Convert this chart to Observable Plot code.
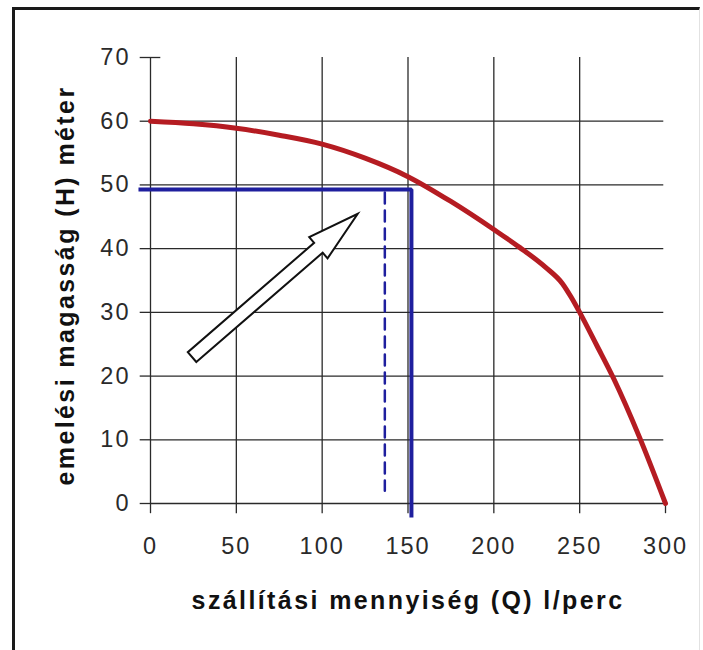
<!DOCTYPE html>
<html><head><meta charset="utf-8">
<script src="https://cdn.jsdelivr.net/npm/d3@7"></script>
<script src="https://cdn.jsdelivr.net/npm/@observablehq/plot@0.6"></script>
<style>
body{margin:0;background:#fff;}
#wrap{position:relative;width:703px;height:650px;overflow:hidden;}
#frame{position:absolute;left:12px;top:7px;width:684px;height:660px;border-left:3px solid #1a1a1a;border-top:3px solid #1a1a1a;border-right:1px solid #e2e2e2;}
#chart{position:absolute;left:0;top:0;}
</style></head>
<body><div id="wrap"><div id="frame"></div><div id="chart"></div></div>
<script>
// pump curve: flow Q (l/perc) vs head H (méter)
const flowQ = [0, 25, 50, 75, 100, 125, 150, 175, 200, 215, 230, 240, 245, 250, 260, 270, 285, 300];
const headH = [60, 59.6, 58.9, 57.8, 56.4, 54.2, 51.3, 47.4, 43, 40.2, 37.1, 34.5, 32.4, 30, 24.8, 19.5, 10.3, 0];
const xTicks = [0, 50, 100, 150, 200, 250, 300];
const yTicks = [0, 10, 20, 30, 40, 50, 60, 70];
// operating point guide (solid blue) and dashed blue marker
const opQ = [-7, 152, 152];
const opH = [49.3, 49.3, -2.2];
const dashQ = [136.5, 136.5];
const dashH = [48.8, 2];
// arrow annotation: tail -> tip (data units)
const arrowQ = [24.5, 121];
const arrowH = [22.9, 45.4];
const xLabel = "szállítási mennyiség (Q) l/perc";
const yLabel = "emelési magasság (H) méter";

const curve = flowQ.map((q, i) => ({q, h: headH[i]}));
const opLine = opQ.map((q, i) => ({q, h: opH[i]}));
const dashLine = dashQ.map((q, i) => ({q, h: dashH[i]}));
const gridColor = "#2a2a2a";
const font = "'Liberation Sans', Arial, sans-serif";

const plot = Plot.plot({
  width: 703, height: 650,
  marginLeft: 150, marginRight: 38, marginTop: 57, marginBottom: 147,
  x: {domain: [0, 300], axis: null},
  y: {domain: [0, 70], axis: null},
  style: {fontFamily: font, background: "transparent", overflow: "visible"},
  marks: [
    Plot.ruleY(yTicks.filter(d => d < 70), {y: d => d, x1: 0, x2: 299, stroke: gridColor, strokeWidth: 1.3}),
    Plot.ruleX(xTicks.filter(d => d < 300), {x: d => d, y1: 0, y2: 70, stroke: gridColor, strokeWidth: 1.3}),
    Plot.ruleY(yTicks, {y: d => d, x1: -6, x2: 0, stroke: gridColor, strokeWidth: 1.3}),
    Plot.ruleY([70], {y: d => d, x1: 0, x2: 6, stroke: gridColor, strokeWidth: 1.3}),
    Plot.ruleX(xTicks, {x: d => d, y1: -1.6, y2: 0, stroke: gridColor, strokeWidth: 1.3}),
    Plot.text(yTicks, {x: 0, y: d => d, text: d => String(d), textAnchor: "end", dx: -20, fontSize: 23.5, fill: "#2a2a2a"}),
    Plot.text(xTicks, {x: d => d, y: 0, text: d => String(d), textAnchor: "middle", lineAnchor: "top", dy: 34, fontSize: 23.5, fill: "#2a2a2a"}),
    Plot.line(opLine, {x: "q", y: "h", stroke: "#1f1f9e", strokeWidth: 4, strokeLinejoin: "miter", strokeLinecap: "butt"}),
    Plot.line(dashLine, {x: "q", y: "h", stroke: "#1f1f9e", strokeWidth: 2.5, strokeDasharray: "11,7"}),
    Plot.line(curve, {x: "q", y: "h", curve: "monotone-x", stroke: "#b51c22", strokeWidth: 5}),
    Plot.text([yLabel], {frameAnchor: "left", textAnchor: "middle", rotate: -90, dx: -85, dy: 5, fontSize: 25, fontWeight: "bold", fill: "#111"}),
    Plot.text([xLabel], {frameAnchor: "bottom", textAnchor: "middle", lineAnchor: "bottom", dy: 105, fontSize: 25, fontWeight: "bold", fill: "#111"})
  ]
});

// arrow drawn through the plot's own scales
const sx = plot.scale("x"), sy = plot.scale("y");
const x0 = sx.apply(arrowQ[0]), y0 = sy.apply(arrowH[0]);
const x1 = sx.apply(arrowQ[1]), y1 = sy.apply(arrowH[1]);
const len = Math.hypot(x1 - x0, y1 - y0);
const ux = (x1 - x0) / len, uy = (y1 - y0) / len;
const nx = -uy, ny = ux;
const w = 6.5, W = 14, L = 52;
const neckX = x1 - ux * L, neckY = y1 - uy * L;
const pts = [
  [x0 + nx * w, y0 + ny * w], [neckX + nx * w, neckY + ny * w], [neckX + nx * W, neckY + ny * W],
  [x1, y1],
  [neckX - nx * W, neckY - ny * W], [neckX - nx * w, neckY - ny * w], [x0 - nx * w, y0 - ny * w]
];
d3.select(plot).append("path")
  .attr("d", "M" + pts.map(p => p.join(",")).join("L") + "Z")
  .attr("fill", "#fff").attr("stroke", "#111").attr("stroke-width", 2).attr("stroke-linejoin", "miter");

// letter spacing to match the reference's wide text rendering
d3.select(plot).selectAll("text").style("letter-spacing", "2px");
d3.select(plot).selectAll("text").filter(function() { const t = this.textContent; return t === xLabel || t === yLabel; })
  .style("letter-spacing", "2.4px");

document.getElementById("chart").appendChild(plot);
</script>
</body></html>
